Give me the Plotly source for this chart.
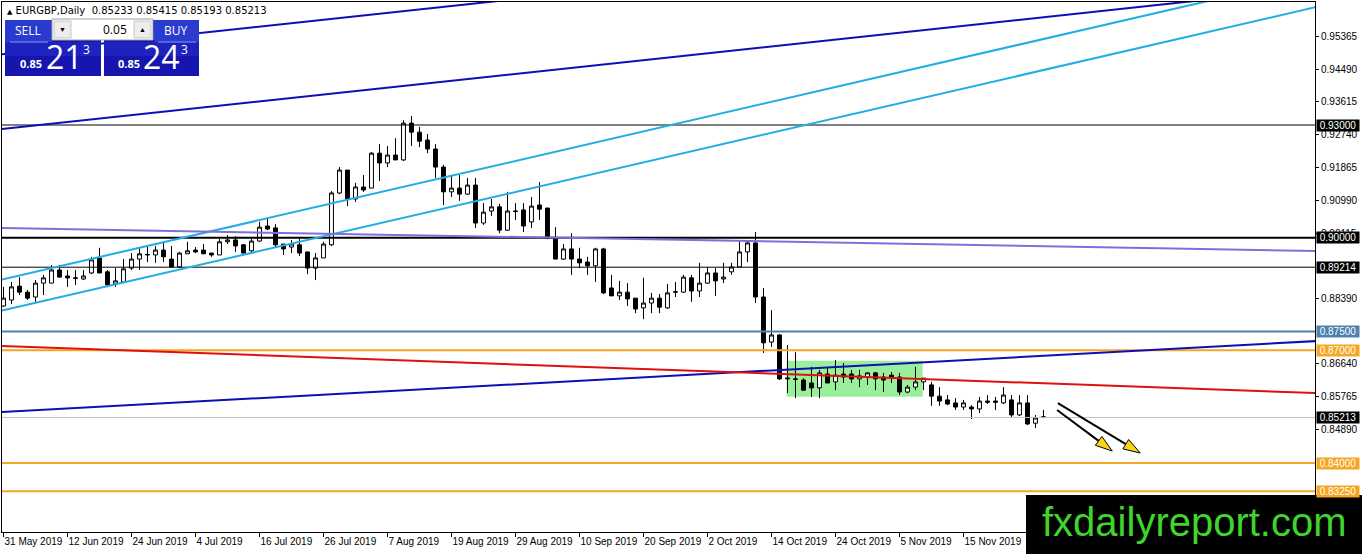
import math
import plotly.graph_objects as go

# EURGBP daily candles, bar index 0 = 31 May 2019 (weekdays only)
opens = [
    0.8818, 0.8834, 0.8871, 0.8855, 0.8842, 0.8879, 0.8879, 0.8914, 0.8898, 0.8893,
    0.8890, 0.8906, 0.8946, 0.8909, 0.8877, 0.8882, 0.8919, 0.8943, 0.8954, 0.8954,
    0.8967, 0.8943, 0.8922, 0.8957, 0.8967, 0.8967, 0.8959, 0.8954, 0.8989, 0.8994,
    0.8981, 0.8965, 0.8991, 0.9031, 0.9026, 0.8983, 0.8975, 0.8981, 0.8962, 0.8919,
    0.8946, 0.8981, 0.9119, 0.9180, 0.9103, 0.9135, 0.9132, 0.9225, 0.9199, 0.9220,
    0.9207, 0.9305, 0.9281, 0.9260, 0.9236, 0.9188, 0.9122, 0.9132, 0.9116, 0.9140,
    0.9039, 0.9071, 0.9082, 0.9020, 0.9071, 0.9074, 0.9042, 0.9087, 0.9079, 0.8999,
    0.8943, 0.8970, 0.8943, 0.8935, 0.8925, 0.8970, 0.8866, 0.8845, 0.8855, 0.8839,
    0.8813, 0.8826, 0.8839, 0.8813, 0.8855, 0.8855, 0.8893, 0.8858, 0.8879, 0.8906,
    0.8890, 0.8909, 0.8922, 0.8962, 0.8986, 0.8842, 0.8722, 0.8741, 0.8624, 0.8624,
    0.8621, 0.8613, 0.8600, 0.8637, 0.8616, 0.8637, 0.8637, 0.8624, 0.8629, 0.8640,
    0.8629, 0.8634, 0.8629, 0.8589, 0.8602, 0.8616, 0.8608, 0.8578, 0.8568, 0.8560,
    0.8549, 0.8549, 0.8544, 0.8565, 0.8565, 0.8560, 0.8568, 0.8528, 0.8560, 0.8506,
    0.85233,
]
highs = [
    0.8869, 0.8882, 0.8895, 0.8861, 0.8887, 0.8901, 0.8927, 0.8927, 0.8914, 0.8914,
    0.8914, 0.8949, 0.8973, 0.8914, 0.8919, 0.8943, 0.8959, 0.8973, 0.8978, 0.8978,
    0.8986, 0.8978, 0.8962, 0.8989, 0.8975, 0.8983, 0.8959, 0.8997, 0.9007, 0.9004,
    0.8983, 0.8997, 0.9042, 0.9052, 0.9036, 0.8983, 0.8994, 0.9002, 0.8962, 0.8959,
    0.8989, 0.9124, 0.9188, 0.9180, 0.9146, 0.9167, 0.9228, 0.9249, 0.9244, 0.9265,
    0.9313, 0.9324, 0.9295, 0.9276, 0.9249, 0.9194, 0.9167, 0.9167, 0.9159, 0.9159,
    0.9092, 0.9103, 0.9090, 0.9122, 0.9092, 0.9092, 0.9108, 0.9148, 0.9079, 0.9028,
    0.8983, 0.9012, 0.8973, 0.8949, 0.8973, 0.8973, 0.8901, 0.8885, 0.8879, 0.8839,
    0.8893, 0.8853, 0.8850, 0.8877, 0.8882, 0.8901, 0.8901, 0.8933, 0.8922, 0.8919,
    0.8933, 0.8933, 0.8989, 0.8991, 0.9015, 0.8866, 0.8807, 0.8743, 0.8714, 0.8695,
    0.8626, 0.8656, 0.8648, 0.8653, 0.8674, 0.8666, 0.8648, 0.8648, 0.8642, 0.8642,
    0.8640, 0.8642, 0.8640, 0.8608, 0.8656, 0.8626, 0.8616, 0.8602, 0.8581, 0.8573,
    0.8568, 0.8554, 0.8576, 0.8581, 0.8576, 0.8602, 0.8581, 0.8581, 0.8581, 0.8528,
    0.85415,
]
lows = [
    0.8816, 0.8823, 0.8847, 0.8834, 0.8829, 0.8847, 0.8879, 0.8893, 0.8869, 0.8874,
    0.8887, 0.8903, 0.8906, 0.8874, 0.8869, 0.8882, 0.8914, 0.8914, 0.8935, 0.8933,
    0.8935, 0.8922, 0.8919, 0.8957, 0.8959, 0.8957, 0.8949, 0.8954, 0.8983, 0.8962,
    0.8957, 0.8962, 0.8989, 0.9020, 0.8975, 0.8954, 0.8959, 0.8951, 0.8903, 0.8887,
    0.8946, 0.8978, 0.9116, 0.9084, 0.9095, 0.9122, 0.9132, 0.9151, 0.9188, 0.9207,
    0.9204, 0.9244, 0.9241, 0.9225, 0.9159, 0.9087, 0.9108, 0.9098, 0.9114, 0.9026,
    0.9034, 0.9058, 0.9012, 0.9018, 0.9047, 0.9015, 0.9026, 0.9047, 0.8996, 0.8943,
    0.8941, 0.8901, 0.8919, 0.8901, 0.8882, 0.8850, 0.8845, 0.8834, 0.8818, 0.8799,
    0.8783, 0.8799, 0.8799, 0.8810, 0.8842, 0.8853, 0.8829, 0.8842, 0.8877, 0.8845,
    0.8879, 0.8901, 0.8922, 0.8935, 0.8826, 0.8693, 0.8709, 0.8621, 0.8586, 0.8573,
    0.8592, 0.8576, 0.8573, 0.8613, 0.8594, 0.8613, 0.8613, 0.8602, 0.8608, 0.8594,
    0.8589, 0.8613, 0.8581, 0.8586, 0.8594, 0.8594, 0.8552, 0.8552, 0.8554, 0.8541,
    0.8541, 0.8517, 0.8533, 0.8557, 0.8541, 0.8557, 0.8522, 0.8525, 0.8501, 0.8493,
    0.85193,
]
closes = [
    0.8839, 0.8869, 0.8855, 0.8839, 0.8879, 0.8893, 0.8914, 0.8895, 0.8893, 0.8892,
    0.8898, 0.8941, 0.8906, 0.8874, 0.8885, 0.8917, 0.8943, 0.8957, 0.8955, 0.8967,
    0.8949, 0.8922, 0.8959, 0.8965, 0.8962, 0.8957, 0.8954, 0.8989, 0.8994, 0.8978,
    0.8959, 0.8991, 0.9028, 0.9023, 0.8981, 0.8970, 0.8983, 0.8959, 0.8919, 0.8946,
    0.8983, 0.9119, 0.9180, 0.9103, 0.9135, 0.9127, 0.9225, 0.9199, 0.9220, 0.9207,
    0.9305, 0.9281, 0.9257, 0.9236, 0.9188, 0.9122, 0.9132, 0.9116, 0.9140, 0.9039,
    0.9068, 0.9082, 0.9020, 0.9071, 0.9070, 0.9031, 0.9084, 0.9076, 0.8999, 0.8943,
    0.8970, 0.8943, 0.8933, 0.8925, 0.8970, 0.8853, 0.8845, 0.8855, 0.8837, 0.8810,
    0.8826, 0.8839, 0.8815, 0.8853, 0.8856, 0.8895, 0.8858, 0.8879, 0.8906, 0.8885,
    0.8895, 0.8922, 0.8962, 0.8986, 0.8842, 0.8720, 0.8741, 0.8624, 0.8626, 0.8623,
    0.8594, 0.8600, 0.8640, 0.8613, 0.8634, 0.8629, 0.8624, 0.8632, 0.8640, 0.8624,
    0.8621, 0.8629, 0.8589, 0.8602, 0.8616, 0.8626, 0.8578, 0.8565, 0.8557, 0.8549,
    0.8560, 0.8544, 0.8565, 0.8562, 0.8562, 0.8581, 0.8528, 0.8560, 0.8504, 0.8520,
    0.85213,
]

date_ticks = [0, 8, 16, 24, 32, 40, 48, 56, 64, 72, 80, 88, 96, 104, 112, 120]
date_labels = ["31 May 2019", "12 Jun 2019", "24 Jun 2019", "4 Jul 2019", "16 Jul 2019",
               "26 Jul 2019", "7 Aug 2019", "19 Aug 2019", "29 Aug 2019", "10 Sep 2019",
               "20 Sep 2019", "2 Oct 2019", "14 Oct 2019", "24 Oct 2019", "5 Nov 2019",
               "15 Nov 2019"]
price_ticks = [0.95365, 0.94490, 0.93615, 0.92740, 0.91865, 0.90990, 0.90115,
               0.88390, 0.86640, 0.85765, 0.84890]

# horizontal levels: (price, colour, width, label colour)
levels = [
    (0.93000, "black", 1, "black"),
    (0.90000, "black", 2, "black"),
    (0.89214, "black", 1, "black"),
    (0.87500, "#4F81AE", 2, "#4F81AE"),
    (0.87000, "#F5A623", 2, "#F5A623"),
    (0.85213, "#C0C0C0", 1, "black"),
    (0.84000, "#F5A623", 2, "#F5A623"),
    (0.83250, "#F5A623", 2, "#F5A623"),
]

# trend lines: (x0, y0, x1, y1, colour)
trend_lines = [
    (-0.19, 0.92891, 164.0, 0.96648, "#0E0EB4"),
    (-0.19, 0.94882, 164.0, 0.98642, "#0E0EB4"),
    (-0.19, 0.85358, 164.0, 0.87246, "#0E0EB4"),
    (-0.19, 0.88886, 164.0, 0.96962, "#22AEE3"),
    (-0.19, 0.88060, 164.0, 0.96136, "#22AEE3"),
    (-0.19, 0.90257, 164.0, 0.89645, "#7F6FDA"),
    (-0.19, 0.87115, 164.0, 0.85863, "#E01010"),
]

# consolidation box (x0, x1, y0, y1)
range_box = (97.9, 114.9, 0.85765, 0.86724)

# forecast arrows: (x0, y0, x1, y1)
arrows = [
    (131.7, 0.85411, 138.6, 0.84319),
    (131.8, 0.85597, 142.1, 0.84266),
]

W, H = 1362, 554
ML, MR, MT, MB = 2, 47, 2, 22
PW, PH = W - ML - MR, H - MT - MB
XR = [-0.1875, 163.94]
YR = [0.82163, 0.96275]
FONT = "Liberation Sans"


def px(x, y):
    # pixel position on the page -> paper coords
    return (x - ML) / PW, (MT + PH - y) / PH


fig = go.Figure()
fig.add_trace(go.Candlestick(
    x=list(range(len(opens))), open=opens, high=highs, low=lows, close=closes,
    increasing=dict(line=dict(color="black", width=1), fillcolor="white"),
    decreasing=dict(line=dict(color="black", width=1), fillcolor="black"),
    whiskerwidth=0, hoverinfo="skip",
))

shapes = []
x0, x1, y0, y1 = range_box
shapes.append(dict(type="rect", xref="x", yref="y", x0=x0, x1=x1, y0=y0, y1=y1,
                   fillcolor="#9AF09A", line=dict(width=0), layer="below"))

for p, col, w, _ in levels:
    shapes.append(dict(type="line", xref="paper", yref="y", x0=0, x1=1, y0=p, y1=p,
                       line=dict(color=col, width=w)))

for a, b, c, d, col in trend_lines:
    shapes.append(dict(type="line", xref="x", yref="y", x0=a, y0=b, x1=c, y1=d,
                       line=dict(color=col, width=2)))

# arrows: black shaft, yellow head with black outline
sx = PW / (XR[1] - XR[0])
sy = PH / (YR[1] - YR[0])
for a, b, c, d in arrows:
    dxp, dyp = (c - a) * sx, (d - b) * sy
    n = math.hypot(dxp, dyp)
    ux, uy = dxp / n, dyp / n
    hl, hw = 17, 5.5
    bx, by = c - hl * ux / sx, d - hl * uy / sy
    p1 = (bx - hw * uy / sx, by + hw * ux / sy)
    p2 = (bx + hw * uy / sx, by - hw * ux / sy)
    shapes.append(dict(type="line", xref="x", yref="y", x0=a, y0=b, x1=bx, y1=by,
                       line=dict(color="black", width=2)))
    shapes.append(dict(type="path", xref="x", yref="y",
                       path=f"M{c},{d} L{p1[0]},{p1[1]} L{p2[0]},{p2[1]} Z",
                       fillcolor="#F7D417", line=dict(color="black", width=1)))


def rect(xa, ya, xb, yb, fill, line=None):
    pa, qa = px(xa, ya)
    pb, qb = px(xb, yb)
    shapes.append(dict(type="rect", xref="paper", yref="paper", x0=pa, y0=qb, x1=pb, y1=qa,
                       fillcolor=fill, line=line or dict(width=0)))


# one-click trading panel
rect(5, 20, 101, 76, "#1616AE")
rect(104, 20, 199, 76, "#1616AE")
rect(5, 20, 52, 42, "#2B3BCF")
rect(154, 20, 199, 42, "#2B3BCF")
rect(5, 42, 101, 56, "#1E22BE")
rect(104, 42, 199, 56, "#1E22BE")
rect(52, 19, 153, 40, "white", dict(color="#A0A0A0", width=1))
rect(54, 21, 71, 38, "#EDEDED", dict(color="#C8C8C8", width=1))
rect(134, 21, 151, 38, "#EDEDED", dict(color="#C8C8C8", width=1))
rect(10, 41.5, 48, 42.5, "#8C95E8")
rect(158, 41.5, 196, 42.5, "#8C95E8")

# watermark box
rect(1026, 495, 1362, 554, "black")

fig.update_layout(shapes=shapes)

ann = []


def text(x, y, s, size, color="black", family=FONT, xanchor="left", yanchor="middle"):
    a, b = px(x, y)
    ann.append(dict(xref="paper", yref="paper", x=a, y=b, text=s, showarrow=False,
                    xanchor=xanchor, yanchor=yanchor,
                    font=dict(size=size, color=color, family=family)))


text(5, 11, "<span style='font-size:7px'>▲</span> EURGBP,Daily  0.85233 0.85415 0.85193 0.85213",
     10, "black", "DejaVu Sans")
text(28, 31, "SELL", 12, "white", "Open Sans", "center")
text(176, 31, "BUY", 12, "white", "Open Sans", "center")
text(62.5, 29.5, "▼", 7, "black", FONT, "center")
text(142.5, 29.5, "▲", 7, "black", FONT, "center")
text(129, 30, "0.05", 12, "black", "Open Sans", "right")
text(31, 64, "<b>0.85</b>", 11, "white", "Open Sans", "center")
text(64, 57, "21", 32, "white", "Open Sans", "center")
text(86, 50, "3", 12, "white", "Open Sans", "center")
text(129, 64, "<b>0.85</b>", 11, "white", "Open Sans", "center")
text(161, 57, "24", 32, "white", "Open Sans", "center")
text(184, 50, "3", 12, "white", "Open Sans", "center")
text(1194, 522, "fxdailyreport.com", 40, "#3FD52C", FONT, "center")

for p, col, w, lab in levels:
    ann.append(dict(xref="paper", yref="y", x=1, y=p, xanchor="left", xshift=1,
                    text=f"{p:.5f}", showarrow=False, bgcolor=lab, width=42, height=11,
                    borderpad=0, font=dict(size=10, color="white", family=FONT)))

fig.update_layout(
    annotations=ann,
    width=W, height=H,
    margin=dict(l=ML, r=MR, t=MT, b=MB),
    paper_bgcolor="white", plot_bgcolor="white",
    showlegend=False,
    font=dict(family=FONT, size=10, color="black"),
    xaxis=dict(range=XR, tickvals=date_ticks, ticktext=date_labels, ticks="outside",
               ticklen=4, tickcolor="black", showline=True, linecolor="black",
               mirror=True, showgrid=False, zeroline=False, ticklabelposition="outside right",
               tickangle=0, rangeslider=dict(visible=False), fixedrange=True),
    yaxis=dict(range=YR, side="right", tickvals=price_ticks,
               ticktext=[f"{v:.5f}" for v in price_ticks], ticks="outside", ticklen=3,
               tickcolor="black", showline=True, linecolor="black", mirror=True,
               showgrid=False, zeroline=False, fixedrange=True),
)

fig.write_html("out.html", config={"displayModeBar": False},
               post_script="document.body.style.margin='0';")
